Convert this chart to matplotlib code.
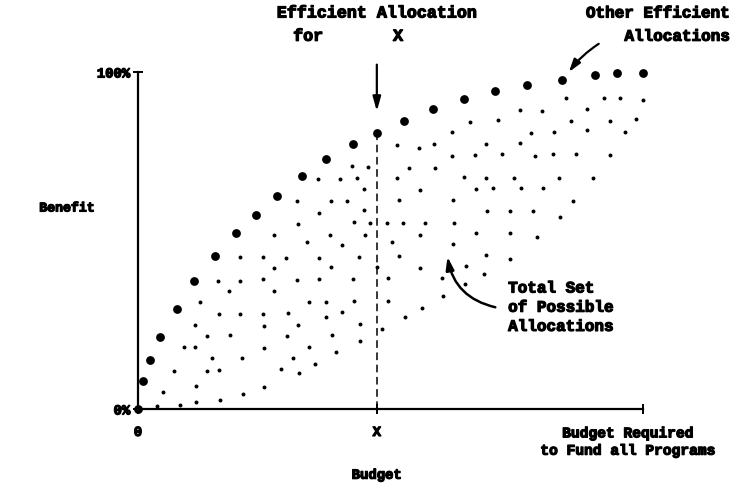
import matplotlib
matplotlib.use("Agg")
import matplotlib.pyplot as plt
import matplotlib.patheffects as pe

# budget as % of the amount needed to fund every program, benefit in %
x_budget = 47.3

frontier_budget = [0, 1.0, 2.4, 4.4, 7.7, 11.1, 15.2, 19.4, 23.3, 27.5, 32.5, 37.2,
                   42.5, 47.3, 52.7, 58.4, 64.6, 70.7, 77.0, 84.0, 90.5, 94.9, 100]
frontier_benefit = [0, 8.3, 14.5, 21.4, 29.7, 38.0, 45.4, 52.1, 57.6, 63.2, 69.1, 74.2,
                    78.6, 81.9, 85.4, 89.0, 92.0, 94.4, 96.1, 97.6, 99.1, 99.7, 99.7]

# every other (non-efficient) allocation
set_budget = [
    27.0, 33.5, 20.3, 24.8, 29.4, 27.0, 15.8, 20.3, 24.8, 31.5, 18.0, 27.0, 12.3, 33.9,
    16.1, 20.3, 24.8, 29.7, 11.3, 24.9, 31.7, 13.7, 18.3, 29.6, 9.1, 11.3, 24.9, 33.8,
    14.7, 20.6, 30.7, 7.1, 13.7, 16.0, 28.4, 31.8, 4.9, 11.5, 20.7, 25.0, 3.7, 8.3,
    11.5, 16.2,
    31.4, 31.6, 65.7, 62.2, 51.3, 55.6, 58.7, 62.2, 42.4, 45.6, 53.6, 58.8, 35.7, 40.1,
    43.3, 51.3, 64.5, 44.8, 55.8, 38.3, 41.4, 51.7, 62.4, 35.9, 44.8, 42.7, 45.9, 49.4,
    52.5, 56.8, 62.6, 38.1, 44.9, 55.8, 40.5, 50.4, 62.4, 35.9, 43.7, 51.6, 38.2, 47.4,
    55.8, 64.9,
    35.9, 42.6, 49.5, 60.3, 64.8, 37.2, 42.8, 49.5, 60.4, 40.5, 37.2, 56.2, 52.9, 44.0,
    48.3, 38.4, 43.9, 39.3, 35.1,
    84.7, 92.3, 95.5, 100.0, 75.6, 80.1, 89.0, 71.3, 85.7, 93.5, 98.7, 77.8, 82.4, 88.9,
    96.4, 68.9, 75.6, 66.7, 72.1, 78.7, 82.2, 86.8, 93.5, 69.0, 74.4, 83.3, 90.1, 67.0,
    70.3, 75.8, 80.2, 86.2, 69.2, 73.6, 78.2, 83.6,
    66.9, 73.7, 79.1, 69.0, 73.7, 68.6,
]
set_benefit = [
    51.6, 49.6, 45.1, 45.0, 44.8, 41.9, 38.1, 38.1, 38.5, 38.4, 34.9, 35.0, 31.7, 31.7,
    28.2, 28.3, 28.3, 28.5, 24.8, 24.7, 24.9, 21.6, 21.9, 21.7, 18.3, 18.4, 18.2, 18.3,
    15.1, 15.2, 15.2, 11.4, 11.4, 11.7, 11.9, 10.8, 5.0, 6.7, 4.4, 6.5, 0.9, 1.3,
    2.1, 2.8,
    61.6, 54.8, 85.1, 82.1, 78.3, 77.4, 78.6, 75.2, 72.1, 71.8, 71.4, 71.6, 68.3, 68.3,
    68.4, 68.6, 68.8, 65.4, 65.1, 61.8, 61.7, 62.0, 62.0, 58.1, 59.0, 55.5, 55.3, 55.3,
    55.1, 55.3, 55.3, 51.5, 51.7, 51.6, 48.7, 49.5, 49.0, 44.7, 45.2, 45.4, 42.1, 42.1,
    41.8, 42.5,
    38.5, 38.5, 38.8, 38.8, 37.1, 31.7, 32.1, 32.1, 33.4, 28.7, 27.2, 30.0, 27.2, 25.2,
    23.7, 22.0, 20.1, 16.8, 13.3,
    92.4, 92.4, 92.2, 91.8, 88.7, 88.4, 88.9, 85.7, 85.4, 85.4, 86.0, 81.9, 82.2, 82.7,
    82.1, 78.5, 78.9, 75.3, 75.7, 75.0, 75.7, 75.7, 75.3, 68.5, 68.6, 68.6, 68.6, 65.4,
    65.7, 65.5, 65.6, 61.7, 58.8, 58.7, 58.7, 57.1,
    52.2, 52.3, 51.0, 45.6, 44.4, 40.1,
]

benefit_ticks = [0, 100]
benefit_labels = ["0%", "100%"]
budget_ticks = [0, x_budget]
budget_labels = ["0", "X"]

# wide typewriter-style lettering, thickened a little
plt.rcParams["font.family"] = "Liberation Mono"
plt.rcParams["font.weight"] = "bold"
plt.rcParams["font.size"] = 9.5
heavy = [pe.withStroke(linewidth=0.9, foreground="black")]

fig = plt.figure(figsize=(7.41, 4.89), dpi=100)
ax = fig.add_axes([0.1862, 0.1616, 0.6815, 0.6892])
ax.set_xlim(0, 100)
ax.set_ylim(0, 100)

ax.scatter(set_budget, set_benefit, s=8, color="black", linewidths=0, clip_on=False, zorder=3)
ax.scatter(frontier_budget, frontier_benefit, s=40, color="black", linewidths=0,
           clip_on=False, zorder=4)

fx = frontier_budget[frontier_budget.index(x_budget)]
fy = frontier_benefit[frontier_budget.index(x_budget)]
ax.plot([fx, fx], [0, fy], color="black", lw=1.1, ls=(0, (5, 3)), zorder=2)

for side in ("top", "right"):
    ax.spines[side].set_visible(False)
for side in ("left", "bottom"):
    ax.spines[side].set_linewidth(1.6)

ax.set_yticks(benefit_ticks)
ax.set_yticklabels(benefit_labels)
ax.set_xticks(budget_ticks + [100])
ax.set_xticklabels(budget_labels + [""])
ax.tick_params(axis="both", direction="inout", length=7, width=1.4, labelsize=10)
ax.tick_params(axis="x", pad=8)
ax.tick_params(axis="y", pad=2)
for lab in ax.get_xticklabels() + ax.get_yticklabels():
    lab.set_path_effects(heavy)

ax.text(-14, 59.5, "Benefit", ha="center", va="center", fontsize=9.5, path_effects=heavy)
ax.text(x_budget, -19.5, "Budget", ha="center", va="center", fontsize=10,
        path_effects=heavy)
ax.text(97, -9.8, "Budget Required\nto Fund all Programs", ha="center", va="center",
        fontsize=10.5, linespacing=1.3, clip_on=False, path_effects=heavy)

ax.text(x_budget, 117.5, "Efficient Allocation", ha="center", va="center", fontsize=12,
        clip_on=False, path_effects=heavy)
ax.text(33.7, 110.6, "for", ha="center", va="center", fontsize=12, clip_on=False,
        path_effects=heavy)
ax.text(51.5, 110.6, "X", ha="center", va="center", fontsize=12, clip_on=False,
        path_effects=heavy)
ax.annotate("", xy=(fx, 87.5), xytext=(fx, 103),
            arrowprops=dict(arrowstyle="-|>,head_length=0.9,head_width=0.25",
                            color="black", lw=1.6), annotation_clip=False)

ax.text(117.3, 117.5, "Other Efficient", ha="right", va="center", fontsize=11.5,
        clip_on=False, path_effects=heavy)
ax.text(117.3, 110.6, "Allocations", ha="right", va="center", fontsize=11.5,
        clip_on=False, path_effects=heavy)
ax.annotate("", xy=(85, 99.3), xytext=(91.7, 108.8),
            arrowprops=dict(arrowstyle="-|>,head_length=0.8,head_width=0.25",
                            color="black", lw=1.6, connectionstyle="arc3,rad=0.1"),
            annotation_clip=False)

ax.text(73.3, 30.2, "Total Set\nof Possible\nAllocations", ha="left", va="center",
        fontsize=11.5, linespacing=1.35, path_effects=heavy)
ax.annotate("", xy=(61.2, 46), xytext=(71.3, 30),
            arrowprops=dict(arrowstyle="-|>,head_length=0.8,head_width=0.25",
                            color="black", lw=1.8, connectionstyle="arc3,rad=-0.35"),
            annotation_clip=False)

fig.savefig("out.png", dpi=100)
